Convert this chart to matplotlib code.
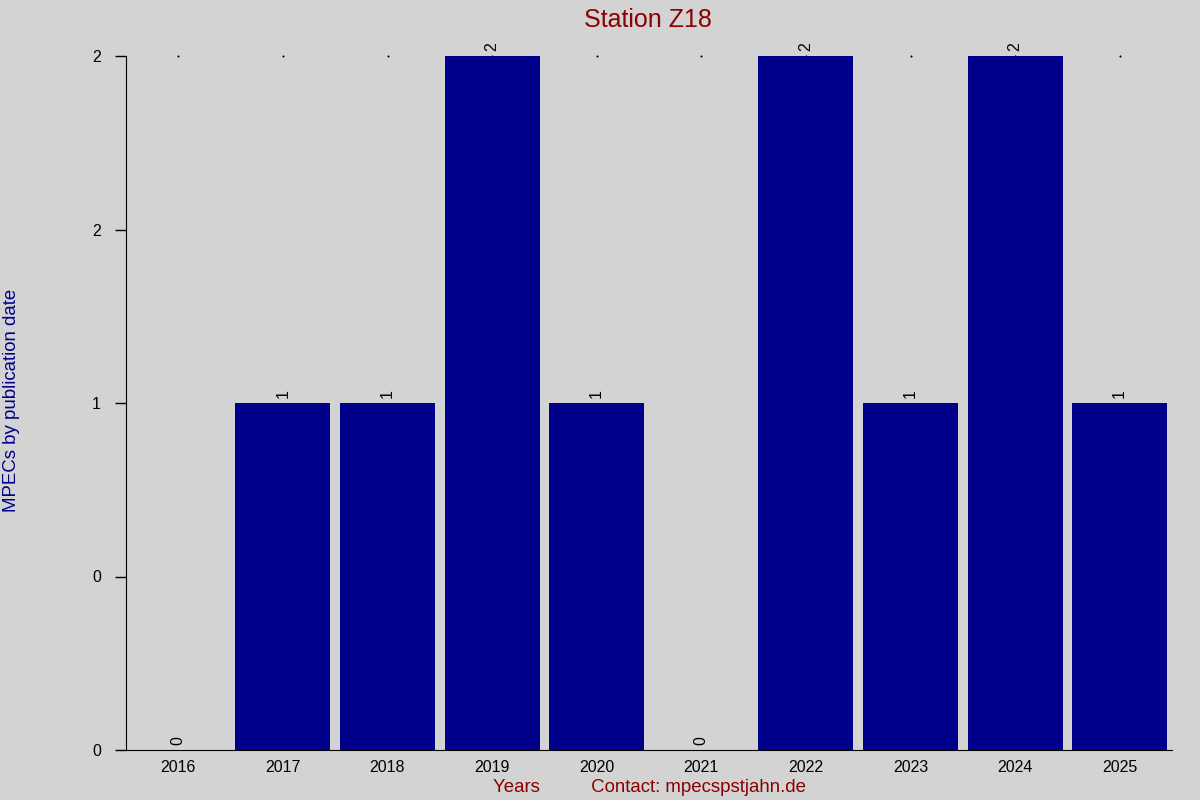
import matplotlib
matplotlib.use("Agg")
import matplotlib.pyplot as plt

years = ["2016", "2017", "2018", "2019", "2020", "2021", "2022", "2023", "2024", "2025"]
counts = [0, 1, 1, 2, 1, 0, 2, 1, 2, 1]
ytick_vals = [0, 0.5, 1, 1.5, 2]
ytick_labels = ["0", "0", "1", "2", "2"]

plt.rcParams['font.family'] = ['Liberation Sans', 'DejaVu Sans']
bg = "#d3d3d3"
fig = plt.figure(figsize=(12, 8), dpi=100, facecolor=bg)
ax = fig.add_axes([126/1200, 50/800, 1046/1200, 694/800], facecolor=bg)

x = list(range(len(years)))
ax.bar(x, counts, width=0.91, color="#00008b")
for xi, c in zip(x, counts):
    ax.text(xi, c + 0.015, str(c), rotation=90, ha="center", va="bottom", fontsize=11.5, color="black")

ax.set_xlim(-0.5, len(years) - 0.5)
ax.set_ylim(0, 2)
ax.set_xticks(x)
ax.set_xticklabels(years, fontsize=11.5)
ax.set_yticks(ytick_vals)
ax.set_yticklabels(ytick_labels, fontsize=11.5)
ax.tick_params(axis="x", length=0, pad=7)
ax.tick_params(axis="y", length=8, width=1, pad=10)
for s in ["top", "right"]:
    ax.spines[s].set_visible(False)
# tiny marks at the top (as in reference)
ax.plot(x, [2] * len(x), linestyle="none", marker="s", markersize=0.5, color="black", clip_on=False, zorder=0)

fig.text(0.54, 0.99, "Station Z18", ha="center", va="top", fontsize=18, color="#8b0000")
fig.text(0.541, 0.016, "Years          Contact: mpecspstjahn.de", ha="center", va="center", fontsize=13.4, color="#8b0000")
fig.text(0.0095, 0.5, "MPECs by publication date", rotation=90, ha="center", va="center", fontsize=13.4, color="#00008b")

fig.savefig("out.png", dpi=100, facecolor=bg)
